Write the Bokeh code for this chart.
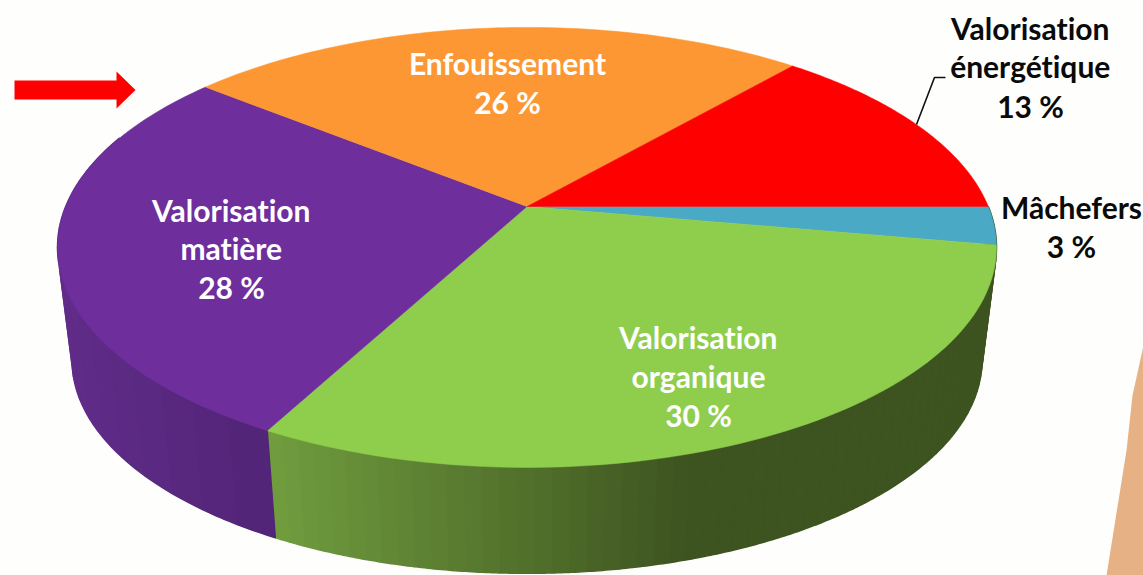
import numpy as np
from bokeh.plotting import figure
from bokeh.embed import file_html
from bokeh.resources import INLINE
from bokeh.core.properties import value

# Data
categories = ["Valorisation énergétique", "Enfouissement", "Valorisation matière", "Valorisation organique", "Mâchefers"]
percent_labels = ["13 %", "26 %", "28 %", "30 %", "3 %"]
order = ["Mâchefers", "Valorisation organique", "Valorisation matière", "Enfouissement", "Valorisation énergétique"]
shares = [2.8, 30.0, 28.0, 25.6, 13.6]
top_colors = ["#4AA9C4", "#8FCE4D", "#6E2E9C", "#FD9733", "#FF0000"]

W, H = 1143, 575
p = figure(width=W, height=H, x_range=(0, W), y_range=(H, 0), toolbar_location=None,
           output_backend="svg", min_border=0, background_fill_color="#FEFEFC", border_fill_color="#FEFEFC",
           outline_line_color=None)
p.axis.visible = False
p.grid.visible = False
p.styles = {"font-variant-ligatures": "none"}

# perspective disc
CX, CY, A, B, K = 526.5, 206.0, 461.3, 212.4, 0.186
BS, BY = 0.969, 320.0

def top(t):
    X, Y = np.cos(t), np.sin(t)
    d = 1 - K * Y
    return CX + A * X / d, CY + B * Y / d

def bottom(t):
    X, Y = np.cos(t), np.sin(t)
    d = 1 - K * Y
    return CX + BS * A * X / d, BY + BS * B * Y / d

cum = np.concatenate([[0], np.cumsum(shares)]) * 3.6
rad = np.radians(cum)

def mix(c0, c1, f):
    return "#%02x%02x%02x" % tuple(int(round(a + (b - a) * f)) for a, b in zip(c0, c1))

# side wall, split in strips for the shading
side_xs, side_ys, side_cols = [], [], []
def strips(t0, t1, colfn, n):
    edges = [t0 + (t1 - t0) * i / n for i in range(n + 1)]
    for a, b in zip(edges[:-1], edges[1:]):
        tt = np.linspace(a, b, 6)
        xt, yt = top(tt)
        xb, yb = bottom(tt[::-1])
        side_xs.append(list(xt) + list(xb))
        side_ys.append(list(yt) + list(yb))
        side_cols.append(colfn((xt[0] + xt[-1]) / 2))

def green(x):
    return mix((112, 156, 62), (61, 83, 32), min(1, max(0, (x - 272) / (690 - 272))))
def purple(x):
    return mix((96, 44, 136), (80, 36, 118), min(1, max(0, (x - 60) / (275 - 60))))

strips(rad[0], rad[1], lambda x: "#3D5320", 2)
strips(rad[1], rad[2], green, 60)
strips(rad[2], np.radians(200), purple, 16)
p.patches(side_xs, side_ys, fill_color=side_cols, line_color=side_cols, line_width=1.5)

# top faces
for i, c in enumerate(top_colors):
    tt = np.linspace(rad[i], rad[i + 1], 80)
    x, y = top(tt)
    p.patch([CX] + list(x), [CY] + list(y), fill_color=c, line_color=c, line_width=0.5)

# red arrow
p.patch([14, 116, 116, 135, 116, 116, 14], [80, 80, 71, 89.5, 108, 99, 99], fill_color="#FF0000", line_color=None)

# wooden edge at the right
p.patch([1143, 1132, 1126, 1106, 1143], [345, 395, 450, 575, 575], fill_color="#E6B285", line_color=None)

# leader
p.line([916, 934, 945], [124, 77, 77], line_color="#111111", line_width=1.6)

FONT = value("Lato")
def label(x, ys, lines, color):
    p.text([x] * len(lines), [y - 2.5 for y in ys], text=lines, text_color=color, text_font=FONT, text_font_size="30px",
           text_font_style="bold", text_align="center", text_baseline="middle")

label(1030, [30, 68, 108], ["Valorisation", "énergétique", percent_labels[0]], "#0A0A0A")
label(507, [65, 104], [categories[1], percent_labels[1]], "#FFFFFF")
label(231, [212, 250, 289], ["Valorisation", "matière", percent_labels[2]], "#FFFFFF")
label(698, [339, 378, 417], ["Valorisation", "organique", percent_labels[3]], "#FFFFFF")
label(1071, [209, 248], [categories[4], percent_labels[4]], "#0A0A0A")

open("out.html", "w").write(file_html(p, INLINE))
